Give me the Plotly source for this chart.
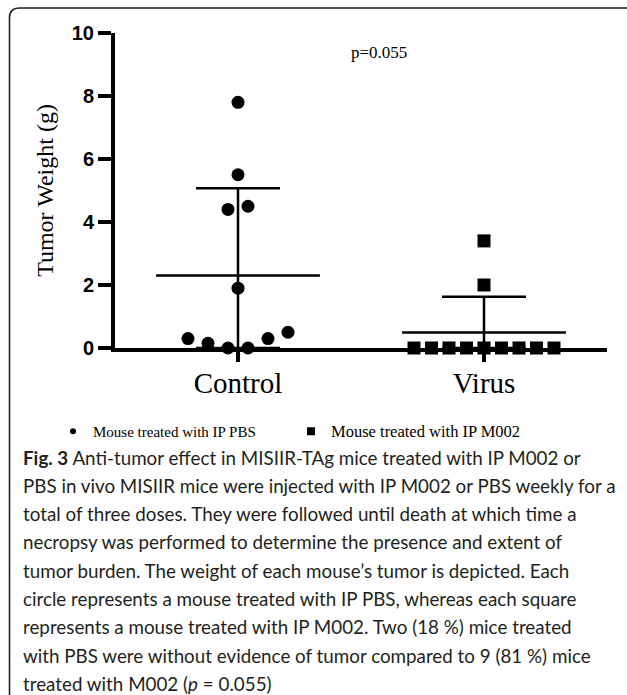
import numpy as np
import plotly.graph_objects as go

# ---------------- data ----------------
groups = ["Control", "Virus"]
control_weights = [7.8, 5.5, 4.4, 4.5, 1.9, 0.3, 0.15, 0.0, 0.0, 0.3, 0.5]
virus_weights = [3.4, 2.0, 0.0, 0.0, 0.0, 0.0, 0.0, 0.0, 0.0, 0.0, 0.0]
y_ticks = [0, 2, 4, 6, 8, 10]
p_text = "p=0.055"
legend_labels = ["Mouse treated with IP PBS", "Mouse treated with IP M002"]
caption_lines = [
    "<b>Fig. 3</b> Anti-tumor effect in MISIIR-TAg mice treated with IP M002 or",
    "PBS in vivo MISIIR mice were injected with IP M002 or PBS weekly for a",
    "total of three doses. They were followed until death at which time a",
    "necropsy was performed to determine the presence and extent of",
    "tumor burden. The weight of each mouse\u2019s tumor is depicted. Each",
    "circle represents a mouse treated with IP PBS, whereas each square",
    "represents a mouse treated with IP M002. Two (18 %) mice treated",
    "with PBS were without evidence of tumor compared to 9 (81 %) mice",
    "treated with M002 (<i>p</i> = 0.055)",
]

# ---------------- layout constants ----------------
W, H = 627, 695
ML, MR, MT, MB = 115, 20, 33, 347
XR = [-0.5, 1.5]
YR = [0, 10]
plot_w = W - ML - MR
plot_h = H - MT - MB
x_unit_px = plot_w / (XR[1] - XR[0])
y_unit_px = plot_h / (YR[1] - YR[0])
marker_px = 13
spacing_px = [20, 17.5]
SERIF = "Liberation Serif, Times New Roman, serif"


def swarm(values, center, spacing):
    """Spread points that share a row horizontally, centred on the group."""
    tol = (marker_px + 6) / y_unit_px
    rows = []
    for i, v in enumerate(values):
        for row in rows:
            if abs(values[row[0]] - v) < tol:
                row.append(i)
                break
        else:
            rows.append([i])
    xs = [0.0] * len(values)
    step = spacing / x_unit_px
    for row in rows:
        n = len(row)
        for k, idx in enumerate(row):
            xs[idx] = center + (k - (n - 1) / 2) * step
    return xs


def px_x(px):
    # page pixel -> paper fraction (paper spans the plot area)
    return (px - ML) / plot_w


def px_y(py):
    return (H - MB - py) / plot_h


data_sets = [control_weights, virus_weights]
means = [float(np.mean(d)) for d in data_sets]
sds = [float(np.std(d, ddof=1)) for d in data_sets]
sd_minus = [min(s, m) for s, m in zip(sds, means)]

fig = go.Figure()

# mean line + SD error bars
fig.add_trace(go.Scatter(
    x=list(range(len(groups))), y=means, mode="markers",
    marker=dict(symbol="line-ew", size=117, color="black",
                line=dict(color="black", width=2.5)),
    error_y=dict(type="data", array=sds, arrayminus=sd_minus, symmetric=False,
                 color="black", thickness=2.5, width=42),
    showlegend=False, hoverinfo="skip",
))

symbols = ["circle", "square"]
for gi, (vals, sym) in enumerate(zip(data_sets, symbols)):
    fig.add_trace(go.Scatter(
        x=swarm(vals, gi, spacing_px[gi]), y=vals, mode="markers",
        marker=dict(symbol=sym, size=marker_px, color="black"),
        cliponaxis=False, showlegend=False, name=groups[gi],
    ))

# legend entries
leg_sizes = [6, 8]
leg_font = [15, 16.5]
for lab, sym, s, fs in zip(legend_labels, symbols, leg_sizes, leg_font):
    fig.add_trace(go.Scatter(
        x=[None], y=[None], mode="markers",
        name=f'<span style="font-size:{fs}px">{lab}</span>',
        marker=dict(symbol=sym, size=s, color="black"),
    ))

fig.update_layout(
    width=W, height=H,
    margin=dict(l=ML, r=MR, t=MT, b=MB, autoexpand=False),
    paper_bgcolor="white", plot_bgcolor="white",
    showlegend=True,
    legend=dict(orientation="h", x=px_x(53), y=px_y(415), xanchor="left", yanchor="top",
                font=dict(family=SERIF, size=15, color="black"),
                entrywidth=193, itemwidth=30, bgcolor="rgba(0,0,0,0)"),
    xaxis=dict(range=XR, tickvals=list(range(len(groups))), ticktext=groups,
               showgrid=False, zeroline=False, showline=True, linewidth=4, linecolor="black",
               ticks="outside", ticklen=10, tickwidth=4, tickcolor="black",
               tickfont=dict(family=SERIF, size=29, color="black"),
               ticklabelstandoff=-4, layer="below traces", fixedrange=True),
    yaxis=dict(range=YR, tickvals=y_ticks,
               showgrid=False, zeroline=False, showline=True, linewidth=4, linecolor="black",
               ticks="outside", ticklen=13, tickwidth=4, tickcolor="black",
               tickfont=dict(family="Liberation Sans, Arial, sans-serif", size=20, color="black", weight="bold"),
               title=dict(text="Tumor Weight (g)", font=dict(family=SERIF, size=24, color="black"), standoff=12),
               layer="below traces", fixedrange=True),
)

annotations = [dict(text=p_text, x=px_x(379), y=px_y(52), xref="paper", yref="paper",
                    showarrow=False, xanchor="center", yanchor="middle",
                    font=dict(family=SERIF, size=17, color="black"))]
for i, line in enumerate(caption_lines):
    annotations.append(dict(text=line, x=px_x(21), y=px_y(457 + 28.3 * i), xref="paper", yref="paper",
                            showarrow=False, xanchor="left", yanchor="middle", align="left",
                            font=dict(family="Lato, Open Sans, sans-serif", size=18.8, color="#231f20")))
fig.update_layout(annotations=annotations)

# rounded frame around the figure panel
r = 10
x0, y0 = 9.5, 8
x1, y1 = 640, 705
pts = dict(ax=px_x(x1), ay=px_y(y0), bx=px_x(x0 + r), cx=px_x(x0), cy=px_y(y0 + r),
           dy=px_y(y1 - r), ey=px_y(y1))
path = (f"M {pts['ax']} {pts['ay']} L {pts['bx']} {pts['ay']} Q {pts['cx']} {pts['ay']} {pts['cx']} {pts['cy']} "
        f"L {pts['cx']} {pts['dy']} Q {pts['cx']} {pts['ey']} {pts['bx']} {pts['ey']} L {pts['ax']} {pts['ey']}")
fig.add_shape(type="path", xref="paper", yref="paper", path=path,
              line=dict(color="#222", width=1.6), layer="below")

fig.write_html("out.html")
